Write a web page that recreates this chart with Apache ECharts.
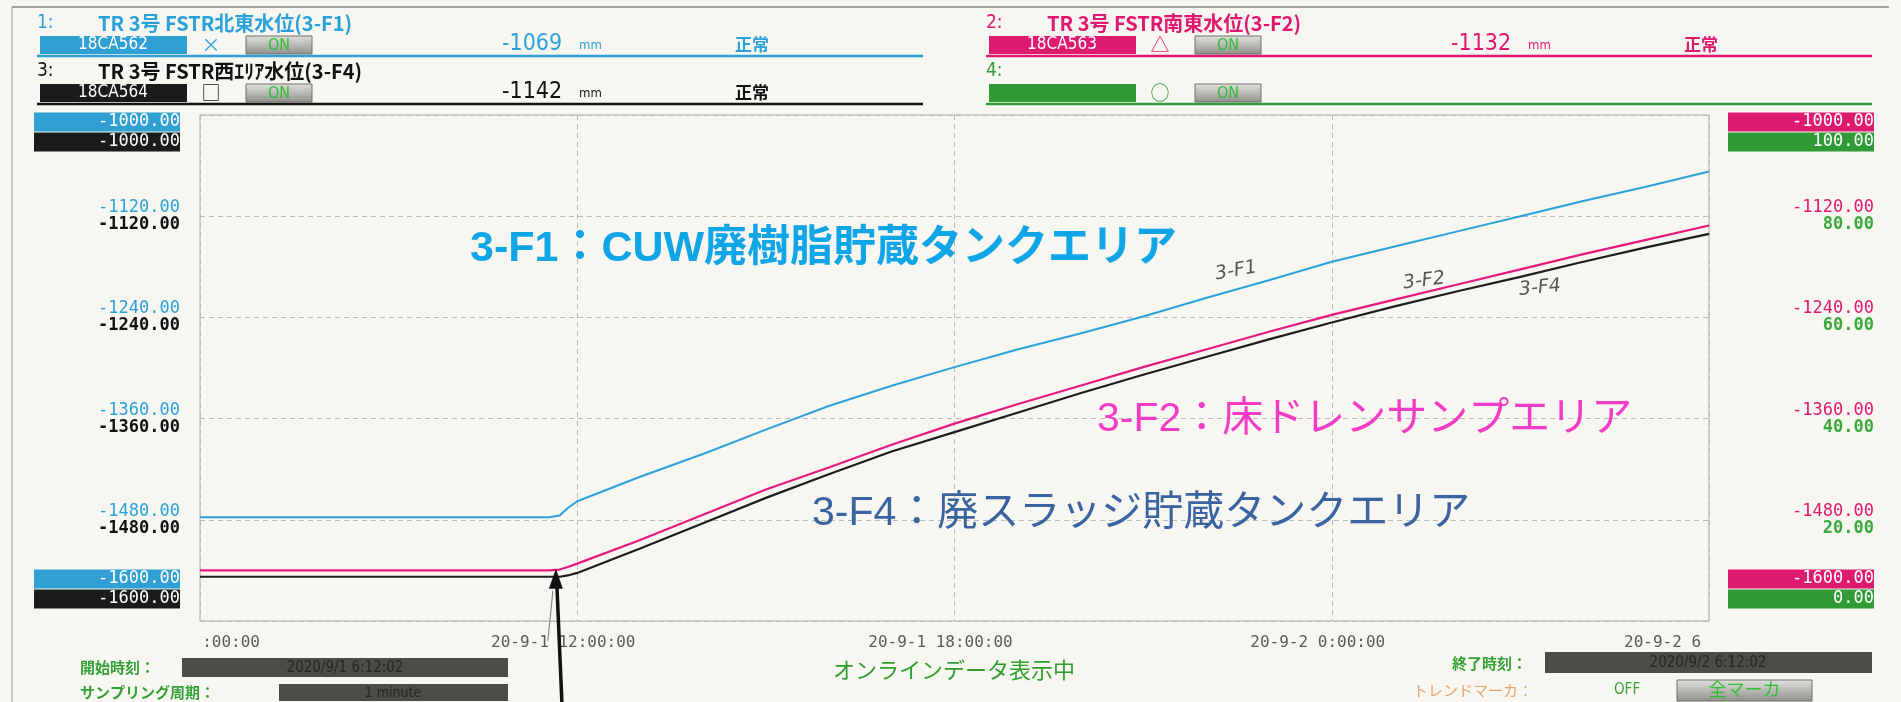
<!DOCTYPE html>
<html>
<head>
<meta charset="utf-8">
<title>3号 FSTR 水位トレンド</title>
<script src="https://cdn.jsdelivr.net/npm/echarts@6/dist/echarts.min.js"></script>
<style>
html, body { margin: 0; padding: 0; background: #f7f6f1; }
#trend { width: 1901px; height: 702px; }
</style>
</head>
<body>
<div id="trend"></div>
<script>
// 時間軸: 2020/9/1 6:00 からの経過時間 [h]
var hours = [0, 1, 2, 3, 4, 5, 5.55, 5.72, 5.85, 6, 7, 8, 9, 10, 11, 12, 13, 14, 15, 16, 17, 18, 19, 20, 21, 22, 23, 24];
// 3-F1 北東水位 [mm]
var f1 = [-1477, -1477, -1477, -1477, -1477, -1477, -1477, -1475, -1466, -1458, -1429, -1402, -1373, -1345, -1321, -1299,
          -1278, -1259, -1239, -1217, -1196, -1174, -1156, -1138, -1120, -1102, -1085, -1067];
// 3-F2 南東水位 [mm]
var f2 = [-1540, -1540, -1540, -1540, -1540, -1540, -1540, -1539, -1536, -1532, -1504, -1474, -1444, -1418, -1391, -1366,
          -1343, -1321, -1299, -1278, -1257, -1237, -1219, -1201, -1183, -1165, -1148, -1131];
// 3-F4 西エリア水位 [mm]
var f4 = [-1547.5, -1547.5, -1547.5, -1547.5, -1547.5, -1547.5, -1547.5, -1547.5, -1546, -1543, -1514, -1484, -1454, -1426, -1399, -1376,
          -1353, -1330, -1308, -1287, -1266, -1246, -1227, -1209, -1192, -1174, -1157, -1141];

var xLabels = [':00:00', '20-9-1 12:00:00', '20-9-1 18:00:00', '20-9-2 0:00:00', '20-9-2 6'];
var leftBlue = ['-1600.00', '-1480.00', '-1360.00', '-1240.00', '-1120.00', '-1000.00'];
var leftBlack = ['-1600.00', '-1480.00', '-1360.00', '-1240.00', '-1120.00', '-1000.00'];
var rightPink = ['-1600.00', '-1480.00', '-1360.00', '-1240.00', '-1120.00', '-1000.00'];
var rightGreen = ['0.00', '20.00', '40.00', '60.00', '80.00', '100.00'];
var arrowPoint = [5.66, -1538];

var yMin = -1600, yMax = -1000, yStep = 120;

var cBlue = '#2ba1d9', cPink = '#e8197d', cBlack = '#1e1e1e', cGreen = '#2f9c38';
var jpFont = '"Noto Sans CJK JP", sans-serif';
var narrowFont = '"Liberation Sans Narrow", "DejaVu Sans Condensed", "Noto Sans CJK JP", sans-serif';
var monoFont = '"DejaVu Sans Mono", "Liberation Mono", monospace';

function pairs(vals) {
  return hours.map(function (h, i) { return [h, vals[i]]; });
}

function tickIndex(v) {
  return Math.round((v - yMin) / yStep);
}

function yRich(topColor, topBox, botColor, botBox) {
  return {
    tb: { backgroundColor: topBox, color: '#fff', width: 146, height: 19, lineHeight: 20, align: 'right', fontSize: 17, fontFamily: monoFont },
    bb: { backgroundColor: botBox, color: '#fff', width: 146, height: 19, lineHeight: 20, align: 'right', fontSize: 17, fontFamily: monoFont },
    tt: { color: topColor, width: 146, lineHeight: 17, align: 'right', fontSize: 17, fontFamily: monoFont },
    bt: { color: botColor, width: 146, lineHeight: 17, align: 'right', fontSize: 17, fontFamily: monoFont, fontWeight: 'bold' },
    gapTop: { width: 146, height: 34, lineHeight: 34, fontSize: 2 },
    gapBot: { width: 146, height: 64, lineHeight: 64, fontSize: 2 }
  };
}

function yFormatter(upper, lower) {
  return function (v) {
    var i = tickIndex(v);
    if (i == 0) return '{tb|' + upper[i] + '}\n{bb|' + lower[i] + '}\n{gapBot| }';
    if (i == upper.length - 1) return '{gapTop| }\n{tb|' + upper[i] + '}\n{bb|' + lower[i] + '}';
    return '{tt|' + upper[i] + '}\n{bt|' + lower[i] + '}';
  };
}

var chart = echarts.init(document.getElementById('trend'));

var option = {
  backgroundColor: '#f7f6f1',
  animation: false,
  grid: {
    left: 200, right: 192, top: 115, bottom: 81,
    show: true, borderColor: '#a9a8a3', borderWidth: 1,
    outerBoundsMode: 'none'
  },
  xAxis: {
    type: 'value', min: 0, max: 24, interval: 6,
    axisLine: { show: false },
    axisTick: { show: false },
    splitLine: { show: true, lineStyle: { color: '#bcbbb5', type: [5, 4], width: 1 } },
    axisLabel: {
      margin: 14,
      color: '#5a5a5a',
      fontSize: 16,
      fontFamily: monoFont,
      formatter: function (v) {
        var i = Math.round(v / 6);
        if (i == 0) return '{mn|' + xLabels[0] + '}';
        if (i == xLabels.length - 1) return '{mx|' + xLabels[i] + '}';
        return '{md|' + xLabels[i] + '}{sp| }';
      },
      rich: {
        mn: { width: 120, align: 'right', color: '#5a5a5a', fontSize: 16, fontFamily: monoFont },
        mx: { width: 170, align: 'left', color: '#5a5a5a', fontSize: 16, fontFamily: monoFont },
        md: { width: 170, align: 'center', color: '#5a5a5a', fontSize: 16, fontFamily: monoFont },
        sp: { width: 28, fontSize: 16 }
      }
    }
  },
  yAxis: [
    {
      type: 'value', position: 'left', min: yMin, max: yMax, interval: yStep,
      axisLine: { show: false }, axisTick: { show: false },
      splitLine: { show: true, lineStyle: { color: '#bcbbb5', type: [5, 4], width: 1 } },
      axisLabel: { margin: 20, formatter: yFormatter(leftBlue, leftBlack), rich: yRich(cBlue, '#2f9fd4', '#111', '#1b1b1b') }
    },
    {
      type: 'value', position: 'right', min: yMin, max: yMax, interval: yStep,
      axisLine: { show: false }, axisTick: { show: false },
      splitLine: { show: false },
      axisLabel: { margin: 19, formatter: yFormatter(rightPink, rightGreen), rich: yRich('#e0176f', '#de1a70', '#3aa83a', '#2f9a36') }
    }
  ],
  series: [
    {
      name: '3-F1', type: 'line', yAxisIndex: 0, data: pairs(f1),
      showSymbol: false, lineStyle: { color: cBlue, width: 2 }, itemStyle: { color: cBlue }, z: 3
    },
    {
      name: '3-F4', type: 'line', yAxisIndex: 0, data: pairs(f4),
      showSymbol: false, lineStyle: { color: cBlack, width: 2.2 }, itemStyle: { color: cBlack }, z: 3
    },
    {
      name: '3-F2', type: 'line', yAxisIndex: 1, data: pairs(f2),
      showSymbol: false, lineStyle: { color: cPink, width: 2.2 }, itemStyle: { color: cPink }, z: 4
    }
  ]
};
chart.setOption(option);

// ---- 画面上部・下部の表示部品 ----
function txt(x, y, s, color, size, opt) {
  opt = opt || {};
  return {
    type: 'text', x: x, y: y, silent: true, z: 20, rotation: opt.rot || 0,
    style: {
      text: s, fill: color, fontSize: size,
      fontFamily: opt.family || jpFont,
      fontWeight: opt.weight || 'normal',
      fontStyle: opt.italic ? 'italic' : 'normal',
      align: opt.align || 'left', verticalAlign: 'middle'
    }
  };
}
function box(x, y, w, h, fill, stroke) {
  return { type: 'rect', silent: true, z: 15, shape: { x: x, y: y, width: w, height: h },
           style: { fill: fill, stroke: stroke || null, lineWidth: 1 } };
}
function rule(x1, y1, x2, y2, color, w) {
  return { type: 'line', silent: true, z: 15, shape: { x1: x1, y1: y1, x2: x2, y2: y2 },
           style: { stroke: color, lineWidth: w } };
}
function button(x, y, w, h, label, size) {
  return [
    { type: 'rect', silent: true, z: 15, shape: { x: x, y: y, width: w, height: h },
      style: { fill: new echarts.graphic.LinearGradient(0, 0, 0, 1, [
        { offset: 0, color: '#e2e2de' }, { offset: 1, color: '#8e8e8a' }]), stroke: '#6f6f6c', lineWidth: 1 } },
    txt(x + w / 2, y + h / 2 + 1, label, '#2fbf35', size, { align: 'center', family: narrowFont })
  ];
}
function channel(x0, y0, c, boxFill, no, name, tag, mark, val) {
  var by = y0 + 13;
  var list = [
    txt(x0 - 3, y0, no + ':', c, 19, { family: narrowFont }),
    box(x0, by, 147, 18, boxFill)
  ];
  if (name) list.push(txt(x0 + 58, y0, name, c, 20, { weight: 'bold' }));
  if (tag) list.push(txt(x0 + 73, by + 9, tag, '#ffffff', 17, { align: 'center', family: narrowFont }));
  list.push(txt(x0 + 171, by + 9, mark, c, 19, { align: 'center' }));
  list = list.concat(button(x0 + 206, by, 66, 18, 'ON', 16));
  if (val) {
    list.push(txt(x0 + 462, by + 8, val, c, 23, { family: narrowFont }));
    list.push(txt(x0 + 539, by + 10, 'mm', c, 13, { family: narrowFont }));
    list.push(txt(x0 + 695, by + 9, '正常', c, 17, { weight: 'bold' }));
  }
  list.push(rule(x0 - 3, by + 20, x0 + 883, by + 20, c, 2.5));
  return list;
}

var green = '#35a035';
var els = [];
els.push(rule(12, 7, 1889, 7, '#8a8a86', 1.5));
els.push(rule(12, 7, 12, 702, '#9a9a96', 1));
els = els.concat(channel(40, 23, cBlue, '#2f9fd4', '1', 'TR 3号 FSTR北東水位(3-F1)', '18CA562', '×', '-1069'));
els = els.concat(channel(40, 71, '#111111', '#1b1b1b', '3', 'TR 3号 FSTR西ｴﾘｱ水位(3-F4)', '18CA564', '□', '-1142'));
els = els.concat(channel(989, 23, '#e0176f', '#de1a70', '2', 'TR 3号 FSTR南東水位(3-F2)', '18CA563', '△', '-1132'));
els = els.concat(channel(989, 71, cGreen, '#2f9a36', '4', '', '', '○', ''));

// 下部
els.push(txt(80, 667, '開始時刻：', green, 15, { weight: 'bold' }));
els.push(box(182, 658, 326, 19, '#4b4b48'));
els.push(txt(345, 668, '2020/9/1 6:12:02', '#262624', 15, { align: 'center', family: narrowFont }));
els.push(txt(80, 692, 'サンプリング周期：', green, 15, { weight: 'bold' }));
els.push(box(279, 684, 229, 17, '#4b4b48'));
els.push(txt(393, 693, '1 minute', '#262624', 14, { align: 'center', family: narrowFont }));
els.push(txt(833, 670, 'オンラインデータ表示中', '#2e9e2e', 22));
els.push(txt(1452, 663, '終了時刻：', green, 15, { weight: 'bold' }));
els.push(box(1545, 652, 327, 21, '#4b4b48'));
els.push(txt(1708, 663, '2020/9/2 6:12:02', '#262624', 15, { align: 'center', family: narrowFont }));
els.push(txt(1413, 690, 'トレンドマーカ：', '#e6a56e', 15));
els.push(txt(1614, 690, 'OFF', green, 15, { family: narrowFont }));
els = els.concat(button(1677, 680, 135, 21, '全マーカ', 18));

// 注記
els.push(txt(470, 249, '3-F1：CUW廃樹脂貯蔵タンクエリア', '#10a5e6', 43,
  { weight: 'bold', family: '"Liberation Sans", "Noto Sans CJK JP", sans-serif' }));
els.push(txt(1097, 420, '3-F2：床ドレンサンプエリア', '#f23cc6', 41,
  { family: '"Liberation Sans", "Noto Sans CJK JP", sans-serif' }));
els.push(txt(812, 514, '3-F4：廃スラッジ貯蔵タンクエリア', '#3a64a0', 41,
  { family: '"Liberation Sans", "Noto Sans CJK JP", sans-serif' }));
els.push(txt(1236, 271, '3-F1', '#555', 19, { italic: true, rot: 0.18, align: 'center', family: '"DejaVu Sans", sans-serif' }));
els.push(txt(1424, 281, '3-F2', '#555', 19, { italic: true, rot: 0.12, align: 'center', family: '"DejaVu Sans", sans-serif' }));
els.push(txt(1540, 288, '3-F4', '#555', 19, { italic: true, rot: 0.1, align: 'center', family: '"DejaVu Sans", sans-serif' }));

// 手書きの矢印（立ち上がり点を指す）
var tip = chart.convertToPixel({ gridIndex: 0 }, arrowPoint);
els.push({ type: 'polyline', silent: true, z: 25,
  shape: { points: [[tip[0] + 6, 702], [tip[0] + 1, tip[1] + 16]] },
  style: { stroke: '#111', lineWidth: 3.5, fill: null } });
els.push({ type: 'polygon', silent: true, z: 25,
  shape: { points: [[tip[0], tip[1]], [tip[0] - 7, tip[1] + 20], [tip[0] + 7, tip[1] + 20]] },
  style: { fill: '#111' } });
els.push({ type: 'polyline', silent: true, z: 24,
  shape: { points: [[tip[0] - 8, tip[1] + 72], [tip[0] - 3, tip[1] + 22]] },
  style: { stroke: '#8a8a8a', lineWidth: 1.2, fill: null } });

chart.setOption({ graphic: { elements: els } });
</script>
</body>
</html>
